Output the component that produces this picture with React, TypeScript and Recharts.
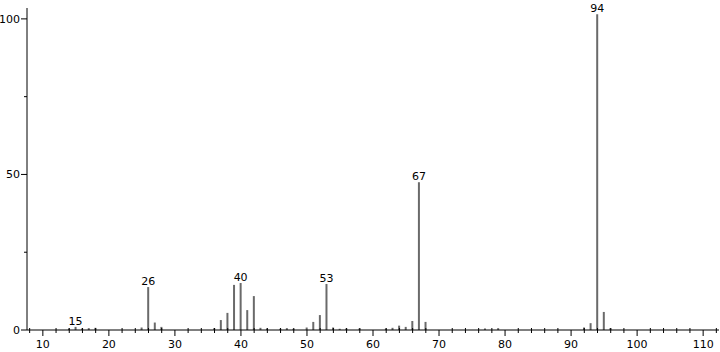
import React from 'react';
import { BarChart, Bar, XAxis, YAxis, LabelList } from 'recharts';

const masses = [14, 15, 16, 17, 18, 25, 26, 27, 28, 36, 37, 38, 39, 40, 41, 42, 43, 44, 46, 47, 48, 50, 51, 52, 53, 54, 55, 56, 58, 62, 63, 64, 65, 66, 67, 68, 77, 79, 92, 93, 94, 95, 96];
const intensities = [0.5, 1.0, 0.5, 0.6, 0.7, 0.8, 13.8, 2.4, 1.0, 0.6, 3.2, 5.5, 14.5, 15.1, 6.4, 10.9, 0.7, 0.5, 0.4, 0.6, 0.4, 0.8, 2.6, 4.8, 14.8, 0.8, 0.4, 0.5, 0.5, 0.5, 0.7, 1.4, 1.0, 2.9, 47.5, 2.6, 0.5, 0.6, 0.8, 2.2, 101.5, 5.8, 0.6];
const labeledMasses = [15, 26, 40, 53, 67, 94];
const xTicks = [8, 10, 12, 14, 16, 18, 20, 22, 24, 26, 28, 30, 32, 34, 36, 38, 40, 42, 44, 46, 48, 50, 52, 54, 56, 58, 60, 62, 64, 66, 68, 70, 72, 74, 76, 78, 80, 82, 84, 86, 88, 90, 92, 94, 96, 98, 100, 102, 104, 106, 108, 110, 112];
const yTicks = [0, 25, 50, 75, 100];

const data = masses.map((m, i) => ({ mass: m, intensity: intensities[i] }));

const FONT = '"DejaVu Sans", sans-serif';

const XTick = (props: any) => {
  const { x, y, payload } = props;
  const v = payload.value;
  const major = v % 10 === 0;
  return (
    <g>
      {major ? (
        <line x1={x} x2={x} y1={y} y2={y + 6} stroke="#000" strokeWidth={1} />
      ) : (
        <line x1={x} x2={x} y1={y - 2} y2={y + 3} stroke="#000" strokeWidth={1} />
      )}
      {major && (
        <text x={x} y={y + 18} textAnchor="middle" fontSize={11} fontFamily={FONT} fill="#000">
          {v}
        </text>
      )}
    </g>
  );
};

const YTick = (props: any) => {
  const { x, y, payload } = props;
  const v = payload.value;
  const major = v % 50 === 0;
  return (
    <g>
      {major ? (
        <line x1={x - 6} x2={x} y1={y} y2={y} stroke="#000" strokeWidth={1} />
      ) : (
        <line x1={x - 3} x2={x} y1={y} y2={y} stroke="#000" strokeWidth={1} />
      )}
      {major && (
        <text x={x - 7} y={y + 4} textAnchor="end" fontSize={11} fontFamily={FONT} fill="#000">
          {v}
        </text>
      )}
    </g>
  );
};

const PeakLabel = (props: any) => {
  const { x, y, width, value } = props;
  if (!labeledMasses.includes(value)) return null;
  return (
    <text x={x + width / 2} y={y - 2} textAnchor="middle" fontSize={11} fontFamily={FONT} fill="#000">
      {value}
    </text>
  );
};

export default function App() {
  return (
    <div style={{ position: 'absolute', left: 0, top: 0, width: 720, height: 352, background: '#fff' }}>
      <BarChart
        width={720}
        height={352}
        data={data}
        margin={{ top: 8, right: 1, bottom: 0, left: 0 }}
        barCategoryGap={0}
      >
        <XAxis
          dataKey="mass"
          type="number"
          domain={[7.6, 112.4]}
          ticks={xTicks}
          interval={0}
          allowDataOverflow
          height={22}
          axisLine={{ stroke: '#000', strokeWidth: 1 }}
          tickLine={false}
          tickSize={0}
          tickMargin={0}
          tick={<XTick />}
        />
        <YAxis
          type="number"
          domain={[0, 103.5]}
          ticks={yTicks}
          interval={0}
          allowDataOverflow
          width={27}
          axisLine={{ stroke: '#000', strokeWidth: 1 }}
          tickLine={false}
          tickSize={0}
          tickMargin={0}
          tick={<YTick />}
        />
        <Bar dataKey="intensity" fill="#6a6a6a" barSize={2} isAnimationActive={false}>
          <LabelList dataKey="mass" content={<PeakLabel />} />
        </Bar>
      </BarChart>
    </div>
  );
}
